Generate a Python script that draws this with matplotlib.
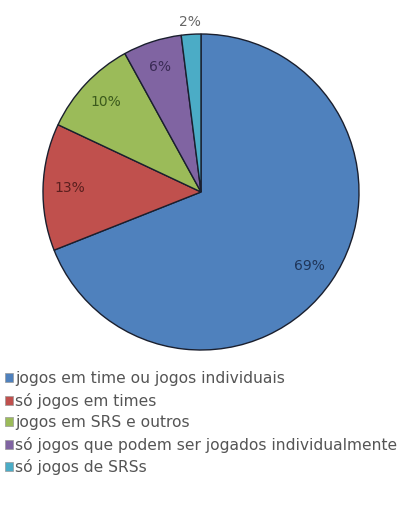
import matplotlib
matplotlib.use('Agg')
import matplotlib.pyplot as plt
import numpy as np

# categorias e percentuais
categorias = ['jogos em time ou jogos individuais',
              'só jogos em times',
              'jogos em SRS e outros',
              'só jogos que podem ser jogados individualmente',
              'só jogos de SRSs']
valores = [69, 13, 10, 6, 2]
rotulos = ['69%', '13%', '10%', '6%', '2%']

cores = ['#4f81bd', '#c0504d', '#9bbb59', '#8064a2', '#4bacc6']
cores_texto = ['#1f3559', '#5a1f1e', '#3b5a1c', '#3a2a55', '#666666']

plt.rcParams['font.family'] = ['DejaVu Sans']

fig = plt.figure(figsize=(4.11, 5.08), dpi=100)
ax = fig.add_axes([43 / 411, (508 - 192 - 158) / 508, 316 / 411, 316 / 508])

wedges, _ = ax.pie(valores, startangle=90, counterclock=False, colors=cores,
                   wedgeprops=dict(edgecolor='#1a1f2e', linewidth=1.0))

# rótulos de porcentagem dentro das fatias (o menor fica fora)
for w, txt, cor in zip(wedges, rotulos, cores_texto):
    ang = np.deg2rad((w.theta1 + w.theta2) / 2)
    dist = 1.08 if (w.theta2 - w.theta1) < 20 else 0.83
    ax.text(dist * np.cos(ang), dist * np.sin(ang), txt, ha='center', va='center',
            fontsize=10, color=cor)

ax.set_xlim(-1, 1)
ax.set_ylim(-1, 1)
ax.set_aspect('equal')
ax.axis('off')

leg = fig.legend(wedges, categorias, loc='upper left', bbox_to_anchor=(0.005, 1 - 368 / 508),
                 frameon=False, fontsize=11.2, handlelength=0.5, handleheight=0.5,
                 handletextpad=0.15, labelspacing=0.42, borderaxespad=0, borderpad=0.2,
                 labelcolor='#555555')
for h in leg.legend_handles:
    h.set_edgecolor('#999999')
    h.set_linewidth(0.5)

fig.savefig('out.png', dpi=100)
